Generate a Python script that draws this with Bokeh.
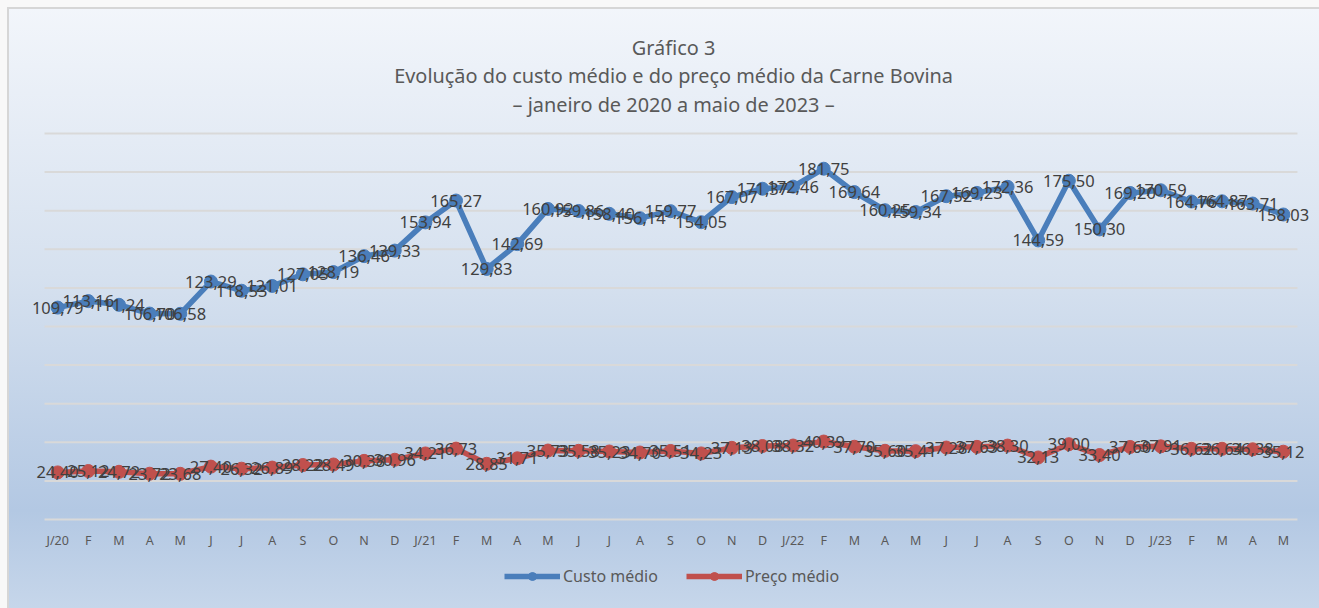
from bokeh.plotting import figure
from bokeh.layouts import column
from bokeh.models import FixedTicker, Label, Legend, LegendItem, ColumnDataSource, Range1d
from bokeh.embed import file_html
from bokeh.resources import INLINE
from bokeh.core.properties import value

months = ["J/20", "F", "M", "A", "M", "J", "J", "A", "S", "O", "N", "D",
          "J/21", "F", "M", "A", "M", "J", "J", "A", "S", "O", "N", "D",
          "J/22", "F", "M", "A", "M", "J", "J", "A", "S", "O", "N", "D",
          "J/23", "F", "M", "A", "M"]
custo = [109.79, 113.16, 111.24, 106.70, 106.58, 123.29, 118.53, 121.01, 127.05, 128.19, 136.46, 139.33,
         153.94, 165.27, 129.83, 142.69, 160.92, 159.86, 158.40, 156.14, 159.77, 154.05, 167.07, 171.37,
         172.46, 181.75, 169.64, 160.25, 159.34, 167.52, 169.23, 172.36, 144.59, 175.50, 150.30, 169.20,
         170.59, 164.76, 164.87, 163.71, 158.03]
preco = [24.40, 25.12, 24.72, 23.72, 23.68, 27.40, 26.32, 26.89, 28.22, 28.49, 30.38, 30.96,
         34.21, 36.73, 28.85, 31.71, 35.73, 35.58, 35.23, 34.70, 35.51, 34.23, 37.13, 38.08,
         38.32, 40.39, 37.70, 35.60, 35.41, 37.28, 37.63, 38.30, 32.13, 39.00, 33.40, 37.60,
         37.91, 36.62, 36.64, 36.38, 35.12]
title_lines = ["Gráfico 3",
               "Evolução do custo médio e do preço médio da Carne Bovina",
               "– janeiro de 2020 a maio de 2023 –"]
series_names = ["Custo médio", "Preço médio"]
y_ticks = list(range(0, 201, 20))

FONT = "Noto Sans"
BLUE = "#4a7ebb"
RED = "#c0504d"

idx = list(range(len(months)))
def fmt(v):
    return f"{v:.2f}".replace(".", ",")

src_c = ColumnDataSource(dict(x=idx, y=custo, t=[fmt(v) for v in custo]))
src_p = ColumnDataSource(dict(x=idx, y=preco, t=[fmt(v) for v in preco]))
n = len(y_ticks)
src_g = ColumnDataSource(dict(x0=[-0.43] * n, x1=[40.46] * n, y=y_ticks))

scale = 1.93  # px per unit
p = figure(width=1319, height=552, output_backend="svg", toolbar_location=None,
           x_range=(-1.573, 41.18), y_range=(-3 / scale, 519 / scale),
           min_border_left=9, min_border_right=0, min_border_top=0, min_border_bottom=30)
p.title.visible = False
p.background_fill_alpha = 0
p.border_fill_alpha = 0
p.outline_line_color = None

p.yaxis.visible = False
p.xgrid.visible = False
p.ygrid.visible = False
p.segment("x0", "y", "x1", "y", source=src_g, line_color="#d9d9d9", line_width=2)

xa = p.xaxis[0]
xa.ticker = FixedTicker(ticks=idx)
xa.major_label_overrides = {i: m for i, m in enumerate(months)}
xa.axis_line_color = None
xa.major_tick_line_color = None
xa.minor_tick_line_color = None
xa.major_tick_out = 0
xa.major_tick_in = 0
xa.minor_tick_out = 0
xa.major_label_standoff = 9
xa.major_label_text_font = FONT
xa.major_label_text_font_size = "12.5px"
xa.major_label_text_color = "#595959"

p.line("x", "y", source=src_c, line_color=BLUE, line_width=5.5)
p.scatter("x", "y", source=src_c, size=13, fill_color=BLUE, line_color=BLUE)
p.line("x", "y", source=src_p, line_color=RED, line_width=5.5)
p.scatter("x", "y", source=src_p, size=13, fill_color=RED, line_color=RED)

for src in (src_c, src_p):
    p.text("x", "y", text="t", source=src, text_align="center", text_baseline="middle",
           text_font=value(FONT), text_font_size="16.5px", text_color="#404040")

for txt, yv in zip(title_lines, [244.6, 230.1, 215.0]):
    p.add_layout(Label(x=20.1, y=yv, text=txt, text_align="center", text_baseline="middle",
                       text_font=FONT, text_font_size="19.9px", text_color="#595959"))

# legend strip below the chart (its glyph renderers lie outside this strip's ranges)
p2 = figure(width=1319, height=56, output_backend="svg", toolbar_location=None,
            x_range=Range1d(-1000, -999), y_range=Range1d(-1000, -999), x_axis_type=None, y_axis_type=None,
            min_border_left=0, min_border_right=0, min_border_top=0, min_border_bottom=0)
p2.title.visible = False
p2.background_fill_alpha = 0
p2.border_fill_alpha = 0
p2.outline_line_color = None
p2.xgrid.visible = False
p2.ygrid.visible = False
lc = p2.line("x", "y", source=src_c, line_color=BLUE, line_width=5.5)
mc = p2.scatter("x", "y", source=src_c, size=9, fill_color=BLUE, line_color=BLUE)
lp = p2.line("x", "y", source=src_p, line_color=RED, line_width=5.5)
mp = p2.scatter("x", "y", source=src_p, size=9, fill_color=RED, line_color=RED)
legend = Legend(items=[LegendItem(label=series_names[0], renderers=[lc, mc]),
                       LegendItem(label=series_names[1], renderers=[lp, mp])],
                orientation="horizontal", location=(495, 21),
                glyph_width=56, glyph_height=20, label_standoff=3, spacing=28,
                margin=0, padding=10,
                label_text_font=FONT, label_text_font_size="16px", label_text_color="#595959",
                background_fill_alpha=0, border_line_color=None)
p2.add_layout(legend)

layout = column(p, p2, spacing=0)
layout.styles = {"background": "linear-gradient(180deg, #f3f6fb 0%, #d6e1ef 45%, #b3c8e3 84%, #c6d6ea 100%)",
                 "box-shadow": "inset 7px 7px 0 0 #f8f8f8, inset 9px 9px 0 0 #d6d6d6"}

open("out.html", "w").write(file_html(layout, INLINE))
